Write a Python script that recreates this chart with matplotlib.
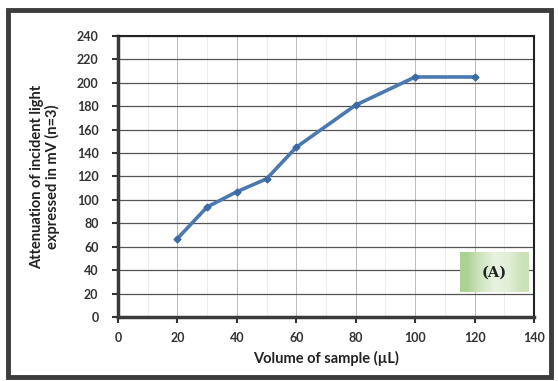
import numpy as np
import matplotlib.pyplot as plt
from matplotlib.patches import Rectangle

# values
volume = [20, 30, 40, 50, 60, 80, 100, 120]
attenuation = [67, 94, 107, 118, 145, 181, 205, 205]
x_ticks = [0, 20, 40, 60, 80, 100, 120, 140]
y_ticks = [0, 20, 40, 60, 80, 100, 120, 140, 160, 180, 200, 220, 240]

plt.rcParams["font.family"] = ["Lato", "DejaVu Sans"]

fig = plt.figure(figsize=(5.58, 3.81), dpi=100)
ax = fig.add_axes([0.2115, 0.168, 0.7455, 0.7375])

ax.plot(volume, attenuation, color="#4a78b0", lw=2.6, marker="D", ms=3.5,
        markerfacecolor="#3d6aa3", markeredgecolor="#3d6aa3")

ax.set_xlim(0, 140)
ax.set_ylim(0, 240)
ax.set_xticks(x_ticks)
ax.set_yticks(y_ticks)
ax.set_xticks(np.arange(10, 140, 10), minor=True)
ax.grid(axis="y", which="major", color="#555555", lw=0.9)
ax.grid(axis="x", which="major", color="#bbbbbb", lw=0.7)
ax.grid(axis="x", which="minor", color="#e6e6e6", lw=0.5)
ax.tick_params(axis="both", which="major", labelsize=9, length=4, width=1.5,
               direction="out", colors="#333333")
ax.tick_params(axis="x", which="minor", length=0)
for lab in ax.get_xticklabels() + ax.get_yticklabels():
    lab.set_fontweight("bold")
ax.tick_params(axis="x", pad=7)
ax.tick_params(axis="y", pad=10)

for side in ["left", "bottom"]:
    ax.spines[side].set_linewidth(2.5)
    ax.spines[side].set_color("#3a3a3a")
for side in ["top", "right"]:
    ax.spines[side].set_linewidth(1.5)
    ax.spines[side].set_color("#222222")

ax.set_xlabel("Volume of sample (µL)", fontsize=10.5, fontweight="bold", color="#222222",
              labelpad=5)
ax.set_ylabel("Attenuation of incident light\nexpressed in mV (n=3)", fontsize=10.5,
              fontweight="bold", color="#222222", labelpad=12, linespacing=1.1)

# green label box
grad = np.array([[0.0, 0.6, 1.0, 0.9, 0.5]])
cmap = plt.matplotlib.colors.LinearSegmentedColormap.from_list("g", ["#acd293", "#e8f2df"])
ax.imshow(grad, extent=[115, 138, 21, 55], aspect="auto", cmap=cmap, zorder=3,
          interpolation="bilinear")
ax.text(126.5, 38, "(A)", ha="center", va="center", fontsize=10.5, fontweight="bold",
        family="DejaVu Serif", color="#222222", zorder=4)
ax.set_xlim(0, 140)
ax.set_ylim(0, 240)

# outer frame
fig.patches.append(Rectangle((0.015, 0.01), 0.972, 0.963, transform=fig.transFigure,
                             fill=False, edgecolor="#3c3c3c", lw=3.5))

fig.savefig("out.png", dpi=100)
